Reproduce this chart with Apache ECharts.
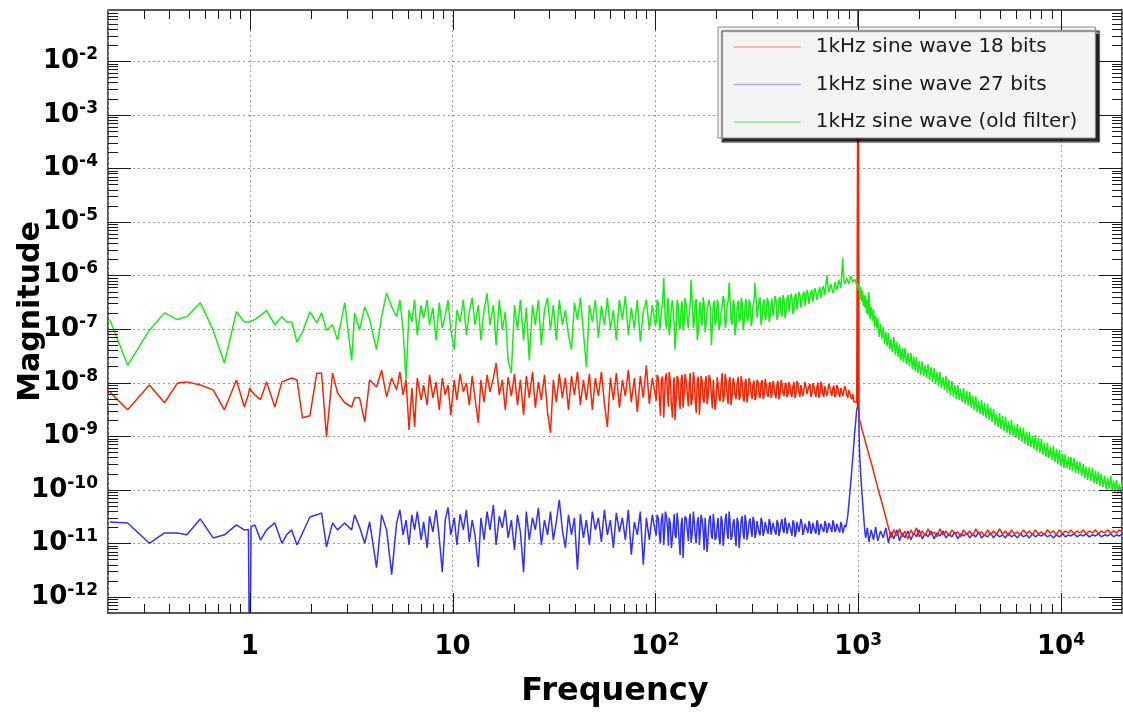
<!DOCTYPE html>
<html>
<head>
<meta charset="utf-8">
<title>1kHz sine wave spectrum</title>
<script src="https://cdn.jsdelivr.net/npm/echarts@6/dist/echarts.min.js"></script>
<style>
  html, body { margin: 0; padding: 0; background: #ffffff; }
  #chart { width: 1123px; height: 717px; }
</style>
</head>
<body>
<div id="chart"></div>
<script>
// Frequency bins (Hz) shared by the three spectra
const freq = [
  0.204, 0.25, 0.32, 0.38, 0.44, 0.49, 0.57, 0.66, 0.75, 0.86,
  0.94, 0.985, 1.0, 1.015, 1.06, 1.13, 1.21, 1.33, 1.44, 1.52, 1.61, 1.71,
  1.82, 1.98, 2.14, 2.26, 2.39, 2.56, 2.71, 2.94, 3.18, 3.29,
  3.48, 3.69, 3.9, 4.22, 4.47, 4.73, 5.01, 5.3,
  5.5, 5.7, 5.9, 6.1, 6.3, 6.5, 6.7, 7.0, 7.2, 7.5,
  7.7, 8.0, 8.3, 8.6, 8.9, 9.2, 9.5, 9.8, 10.2, 10.5,
  10.9, 11.3, 11.7, 12.1, 12.5, 12.9, 13.4, 13.8, 14.3, 14.8,
  15.3, 15.9, 16.4, 17.0, 17.6, 18.2, 18.8, 19.5, 20.2, 20.9,
  21.6, 22.4, 23.1, 23.9, 24.8, 25.6, 26.5, 27.4, 28.4, 29.4,
  30.4, 31.4, 32.5, 33.6, 34.8, 36.0, 37.3, 38.6, 39.9, 41.3,
  42.7, 44.2, 45.7, 47.3, 48.9, 50.6, 52.4, 54.2, 56.1, 58.0,
  60.0, 62.1, 64.2, 66.5, 68.8, 71.1, 73.6, 76.1, 78.8, 81.5,
  84.3, 87.2, 90.3, 93.4, 96.6, 100,
  101, 102, 103.5, 105, 106, 107, 108.5, 110, 111, 112,
  113.5, 115, 116, 117, 118.5, 120, 121.5, 123, 124, 125,
  126.5, 128, 129.5, 131, 132.5, 134, 135.5, 137, 138.5, 140,
  142, 144, 145.5, 147, 148.5, 150, 152, 154, 155.5, 157,
  159, 161, 163, 165, 166.5, 168, 170, 172, 174, 176,
  178, 180, 182, 184, 186.5, 189, 191, 193, 195, 197,
  199.5, 202, 204, 206, 208.5, 211, 213.5, 216, 218.5, 221,
  223.5, 226, 228.5, 231, 233.5, 236, 239, 242, 244.5, 247,
  250, 253, 256, 259, 262, 265, 268, 271, 274, 277,
  280, 283, 286.5, 290, 293.5, 297, 300, 303, 306.5, 310,
  313.5, 317, 321, 325, 328.5, 332, 336, 340, 344, 348,
  352, 356, 360, 364, 368, 372, 376, 380, 384.5, 389,
  393.5, 398, 402.5, 407, 412, 417, 421.5, 426, 431, 436,
  441, 446, 451, 456, 461, 466, 471.5, 477, 482.5, 488,
  493.5, 499, 505, 511, 516.5, 522, 528, 534, 540.5, 547,
  553, 559, 565.5, 572, 578.5, 585, 591.5, 598, 605, 612,
  619, 626, 633, 640, 647.5, 655, 662.5, 670, 677.5, 685,
  693, 701, 709, 717, 725.5, 734, 742, 750, 759, 768,
  776.5, 785, 794, 803, 812, 821, 830.5, 840, 849.5, 859,
  869, 879, 889, 899, 909.5, 920, 930.5, 941, 951.5, 962,
  973, 984,
  993, 1000, 1007,
  1015, 1022, 1030, 1040, 1050, 1060, 1070, 1080, 1090, 1100,
  1110, 1120, 1130, 1145, 1160, 1175, 1190, 1205, 1220, 1235,
  1250, 1270, 1290, 1310, 1330, 1350, 1370, 1390, 1410, 1430,
  1450, 1475, 1500, 1525, 1550, 1575, 1600, 1625, 1650, 1675,
  1700, 1730, 1760, 1790, 1820, 1850, 1880, 1910, 1940, 1970,
  2000, 2035, 2070, 2105, 2140, 2175, 2210, 2250, 2290, 2330,
  2370, 2410, 2450, 2490, 2530, 2575, 2620, 2665, 2710, 2755,
  2800, 2850, 2900, 2950, 3000, 3050, 3100, 3150, 3200, 3255,
  3310, 3370, 3430, 3490, 3550, 3610, 3670, 3735, 3800, 3865,
  3930, 3995, 4060, 4130, 4200, 4275, 4350, 4425, 4500, 4575,
  4650, 4730, 4810, 4895, 4980, 5065, 5150, 5240, 5330, 5420,
  5510, 5605, 5700, 5800, 5900, 6000, 6100, 6205, 6310, 6420,
  6530, 6645, 6760, 6875, 6990, 7110, 7230, 7355, 7480, 7610,
  7740, 7875, 8010, 8150, 8290, 8430, 8570, 8720, 8870, 9025,
  9180, 9340, 9500, 9660, 9820, 10000, 10200, 10350, 10500, 10700,
  10900, 11050, 11200, 11400, 11600, 11800, 12000, 12200, 12400, 12650,
  12900, 13100, 13300, 13550, 13800, 14050, 14300, 14550, 14800, 15050,
  15300, 15550, 15800, 16100, 16400, 16700, 17000, 17300, 17600, 17900,
  18200, 18500, 18800, 19100, 19400, 19700, 20000
];

// 1kHz sine wave, 18 bits
const mag18bits = [
  6.7e-9, 3.1e-9, 9.0e-9, 4.2e-9, 9.8e-9, 1.03e-8, 9.0e-9, 7.3e-9, 3.1e-9, 1.12e-8,
  3.5e-9, 6.0e-9, 8.0e-9, 7.0e-9, 5.9e-9, 4.8e-9, 1.03e-8, 3.5e-9, 1.03e-8, 1.12e-8, 1.22e-8, 1.12e-8,
  2.2e-9, 2.4e-9, 1.5e-8, 1.5e-8, 9.7e-10, 1.5e-8, 6.4e-9, 4.2e-9, 3.5e-9, 5.2e-9,
  5.2e-9, 1.84e-9, 1.12e-8, 8.3e-9, 1.7e-8, 5.4e-9, 1.22e-8, 7.3e-9,
  1.58e-8, 5.9e-9, 1.12e-8, 1.31e-9, 7.9e-9, 1.49e-9, 1.22e-8, 4.7e-9, 9.0e-9, 3.8e-9,
  1.39e-8, 5.2e-9, 1.03e-8, 3.1e-9, 1.22e-8, 5.9e-9, 9.0e-9, 2.5e-9, 1.12e-8, 4.7e-9,
  1.45e-8, 6.7e-9, 9.8e-9, 3.8e-9, 1.33e-8, 5.2e-9, 1.76e-9, 1.12e-8, 4.3e-9, 1.39e-8,
  6.7e-9, 1.22e-8, 2.3e-8, 5.9e-9, 1.12e-8, 3.1e-9, 1.27e-8, 5.6e-9, 1.45e-8, 3.8e-9,
  1.12e-8, 2.5e-9, 1.33e-8, 5.2e-9, 1.58e-8, 3.4e-9, 1.03e-8, 4.7e-9, 1.39e-8, 2.8e-9,
  1.15e-9, 1.12e-8, 4.3e-9, 1.45e-8, 5.2e-9, 1.22e-8, 3.1e-9, 1.33e-8, 5.9e-9, 1.58e-8,
  3.8e-9, 1.12e-8, 4.7e-9, 1.45e-8, 3.1e-9, 1.22e-8, 5.6e-9, 1.58e-8, 4.0e-9, 1.49e-9,
  1.22e-8, 4.7e-9, 1.51e-8, 3.4e-9, 1.12e-8, 5.6e-9, 1.72e-8, 4.3e-9, 1.22e-8, 2.8e-9,
  1.33e-8, 5.2e-9, 2.1e-8, 4.0e-9, 1.22e-8, 5.6e-9,
  4.6e-9, 1.39e-8, 1.2e-8, 4.3e-9, 2.4e-9, 1.12e-8, 1.3e-8, 2.2e-9, 5.0e-9, 1.22e-8,
  1.5e-8, 5.2e-9, 3.5e-9, 1.58e-8, 1.1e-8, 3.8e-9, 2.2e-9, 1.03e-8, 1.25e-8, 2.0e-9,
  4.5e-9, 1.33e-8, 1.2e-8, 4.7e-9, 3.2e-9, 1.12e-8, 1.4e-8, 3.4e-9, 5.9e-9, 1.45e-8,
  1.05e-8, 5.6e-9, 3.6e-9, 9.8e-9, 1.5e-8, 3.8e-9, 5.0e-9, 1.58e-8, 1.18e-8, 5.2e-9,
  2.7e-9, 1.12e-8, 1.28e-8, 2.5e-9, 4.9e-9, 1.33e-8, 1.08e-8, 4.7e-9, 4.2e-9, 1.03e-8,
  1.33e-8, 4.0e-9, 5.4e-9, 1.39e-8, 1.17e-8, 5.6e-9, 3.3e-9, 1.12e-8, 1.22e-8, 3.1e-9,
  5.0e-9, 1.27e-8, 9.0e-9, 5.2e-9, 4.5e-9, 9.4e-9, 1.5e-8, 4.3e-9, 5.4e-9, 1.45e-8,
  1.08e-8, 5.6e-9, 4.0e-9, 1.12e-8, 1.27e-8, 3.8e-9, 5.6e-9, 1.22e-8, 1.02e-8, 5.9e-9,
  4.9e-9, 9.8e-9, 1.28e-8, 4.7e-9, 5.4e-9, 1.33e-8, 9.9e-9, 5.2e-9, 4.4e-9, 1.03e-8,
  1.17e-8, 4.2e-9, 5.8e-9, 1.22e-8, 9.8e-9, 6.1e-9, 4.9e-9, 9.4e-9, 1.08e-8, 4.7e-9,
  5.4e-9, 1.12e-8, 1.02e-8, 5.6e-9, 5.1e-9, 9.8e-9, 1.12e-8, 4.9e-9, 5.8e-9, 1.17e-8,
  9.4e-9, 6.1e-9, 5.4e-9, 9.0e-9, 1.03e-8, 5.2e-9, 6.1e-9, 1.07e-8, 9.0e-9, 5.9e-9,
  5.1e-9, 9.4e-9, 1.08e-8, 4.9e-9, 6.1e-9, 1.12e-8, 9.4e-9, 6.4e-9, 5.6e-9, 9.0e-9,
  9.9e-9, 5.4e-9, 5.9e-9, 1.03e-8, 8.9e-9, 6.1e-9, 5.4e-9, 8.6e-9, 1.03e-8, 5.2e-9,
  6.1e-9, 1.07e-8, 9.4e-9, 6.4e-9, 5.4e-9, 9.0e-9, 9.8e-9, 5.6e-9, 5.9e-9, 1.03e-8,
  8.3e-9, 6.1e-9, 5.6e-9, 8.6e-9, 9.4e-9, 5.4e-9, 6.1e-9, 9.8e-9, 8.6e-9, 6.4e-9,
  5.4e-9, 8.3e-9, 1.0e-8, 5.2e-9, 5.9e-9, 1.03e-8, 8.9e-9, 6.1e-9, 5.4e-9, 8.6e-9,
  9.2e-9, 5.6e-9, 6.1e-9, 9.4e-9, 8.1e-9, 6.4e-9, 5.6e-9, 7.9e-9, 8.8e-9, 5.4e-9,
  5.9e-9, 9.0e-9, 8.1e-9, 6.1e-9, 5.4e-9, 7.9e-9, 8.4e-9, 5.6e-9, 5.6e-9, 8.6e-9,
  7.5e-9, 5.9e-9, 5.2e-9, 7.3e-9, 6.4e-9, 5.4e-9, 4.9e-9, 6.1e-9, 4.4e-9, 4.7e-9,
  4.5e-9, 4.3e-9,
  4.0e-9, 0.5, 3.6e-9,
  2.0e-9, 1.85e-9, 1.69e-9, 1.45e-9, 1.25e-9, 1.1e-9, 9.7e-10, 8.5e-10, 7.5e-10, 6.6e-10,
  5.8e-10, 5.1e-10, 4.5e-10, 3.8e-10, 3.2e-10, 2.7e-10, 2.24e-10, 1.85e-10, 1.52e-10, 1.3e-10,
  1.08e-10, 8.7e-11, 7.0e-11, 5.7e-11, 4.6e-11, 3.7e-11, 3.0e-11, 2.4e-11, 2.0e-11, 1.6e-11,
  1.26e-11, 1.3e-11, 1.78e-11, 1.72e-11, 1.37e-11, 1.4e-11, 1.86e-11, 1.8e-11, 1.32e-11, 1.36e-11,
  1.70e-11, 1.75e-11, 1.21e-11, 1.3e-11, 1.78e-11, 1.7e-11, 1.44e-11, 1.38e-11, 1.94e-11, 1.8e-11,
  1.32e-11, 1.4e-11, 1.70e-11, 1.78e-11, 1.37e-11, 1.3e-11, 1.86e-11, 1.75e-11, 1.44e-11, 1.36e-11,
  1.63e-11, 1.72e-11, 1.32e-11, 1.4e-11, 1.86e-11, 1.78e-11, 1.44e-11, 1.38e-11, 1.70e-11, 1.8e-11,
  1.37e-11, 1.3e-11, 1.78e-11, 1.7e-11, 1.50e-11, 1.4e-11, 1.63e-11, 1.75e-11, 1.32e-11, 1.4e-11,
  1.78e-11, 1.72e-11, 1.44e-11, 1.36e-11, 1.70e-11, 1.8e-11, 1.37e-11, 1.42e-11, 1.86e-11, 1.75e-11,
  1.50e-11, 1.4e-11, 1.63e-11, 1.72e-11, 1.37e-11, 1.44e-11, 1.78e-11, 1.7e-11, 1.44e-11, 1.4e-11,
  1.70e-11, 1.78e-11, 1.44e-11, 1.4e-11, 1.86e-11, 1.75e-11, 1.50e-11, 1.42e-11, 1.70e-11, 1.78e-11,
  1.37e-11, 1.44e-11, 1.78e-11, 1.72e-11, 1.50e-11, 1.42e-11, 1.63e-11, 1.75e-11, 1.44e-11, 1.4e-11,
  1.78e-11, 1.7e-11, 1.50e-11, 1.44e-11, 1.70e-11, 1.78e-11, 1.44e-11, 1.5e-11, 1.78e-11, 1.72e-11,
  1.50e-11, 1.44e-11, 1.63e-11, 1.75e-11, 1.44e-11, 1.5e-11, 1.78e-11, 1.7e-11, 1.56e-11, 1.48e-11,
  1.70e-11, 1.78e-11, 1.44e-11, 1.52e-11, 1.78e-11, 1.72e-11, 1.50e-11, 1.46e-11, 1.70e-11, 1.76e-11,
  1.56e-11, 1.5e-11, 1.78e-11, 1.7e-11, 1.50e-11, 1.55e-11, 1.70e-11, 1.76e-11, 1.56e-11, 1.5e-11,
  1.78e-11, 1.72e-11, 1.50e-11, 1.56e-11, 1.70e-11, 1.76e-11, 1.56e-11, 1.5e-11, 1.78e-11, 1.7e-11,
  1.50e-11, 1.56e-11, 1.70e-11, 1.76e-11, 1.56e-11, 1.52e-11, 1.78e-11, 1.72e-11, 1.56e-11, 1.6e-11,
  1.70e-11, 1.76e-11, 1.56e-11, 1.6e-11, 1.78e-11, 1.7e-11, 1.63e-11
];

// 1kHz sine wave, 27 bits
const mag27bits = [
  2.5e-11, 2.4e-11, 1.0e-11, 1.56e-11, 1.56e-11, 1.44e-11, 2.85e-11, 1.26e-11, 1.44e-11, 2.2e-11,
  1.78e-11, 1.8e-11, 1e-14, 2.0e-11, 2.2e-11, 1.15e-11, 1.78e-11, 2.4e-11, 1.0e-11, 1.44e-11, 1.78e-11, 9.3e-12,
  1.56e-11, 3.1e-11, 3.4e-11, 3.7e-11, 8.6e-12, 2.4e-11, 1.78e-11, 2.4e-11, 1.78e-11, 3.4e-11,
  2.0e-11, 1.0e-11, 2.5e-11, 3.5e-12, 3.4e-11, 1.78e-11, 2.6e-12, 2.4e-11,
  4.2e-11, 1.44e-11, 2.7e-11, 9.3e-12, 3.4e-11, 1.78e-11, 3.9e-11, 1.16e-11, 2.5e-11, 8.2e-12,
  3.2e-11, 1.63e-11, 4.2e-11, 1.26e-11, 2.9e-12, 2.7e-11, 4.7e-11, 1.44e-11, 3.0e-11, 9.3e-12,
  3.5e-11, 1.78e-11, 4.2e-11, 1.06e-11, 2.7e-11, 1.44e-11, 3.6e-12, 3.0e-11, 1.16e-11, 3.9e-11,
  1.78e-11, 5.2e-11, 9.3e-12, 3.2e-11, 1.94e-11, 4.2e-11, 1.26e-11, 2.7e-11, 7.5e-12, 3.4e-11,
  1.63e-11, 2.9e-12, 3.9e-11, 1.16e-11, 3.0e-11, 1.78e-11, 4.6e-11, 9.3e-12, 2.7e-11, 1.44e-11,
  3.9e-11, 1.16e-11, 2.5e-11, 6.5e-11, 1.78e-11, 8.2e-12, 3.4e-11, 1.44e-11, 3.0e-11, 3.2e-12,
  3.5e-11, 1.26e-11, 2.7e-11, 9.3e-12, 3.9e-11, 1.78e-11, 3.0e-11, 1.06e-11, 4.2e-11, 1.44e-11,
  2.7e-11, 8.2e-12, 3.7e-11, 1.63e-11, 3.0e-11, 1.16e-11, 4.2e-11, 6.1e-12, 2.5e-11, 1.44e-11,
  3.9e-11, 4.0e-12, 3.0e-11, 1.16e-11, 3.4e-11, 1.63e-11,
  1.4e-11, 3.4e-11, 2.9e-11, 1.26e-11, 1.0e-11, 2.7e-11, 3.6e-11, 9.3e-12, 1.6e-11, 3.9e-11,
  3.2e-11, 1.78e-11, 9.0e-12, 3.0e-11, 2.3e-11, 8.2e-12, 1.3e-11, 2.5e-11, 3.5e-11, 1.44e-11,
  1.25e-11, 3.7e-11, 2.4e-11, 1.16e-11, 6.0e-12, 2.2e-11, 3.0e-11, 5.3e-12, 1.5e-11, 3.2e-11,
  2.9e-11, 1.63e-11, 1.1e-11, 2.7e-11, 3.6e-11, 1.02e-11, 1.56e-11, 3.9e-11, 2.6e-11, 1.44e-11,
  1.0e-11, 2.5e-11, 3.1e-11, 9.3e-12, 1.6e-11, 3.4e-11, 2.8e-11, 1.78e-11, 7.5e-12, 3.0e-11,
  2.9e-11, 6.9e-12, 1.3e-11, 2.7e-11, 3.3e-11, 1.37e-11, 1.2e-11, 3.5e-11, 2.4e-11, 1.16e-11,
  1.3e-11, 2.3e-11, 3.0e-11, 1.26e-11, 9.5e-12, 3.2e-11, 2.6e-11, 8.9e-12, 1.5e-11, 2.7e-11,
  3.6e-11, 1.56e-11, 1.2e-11, 3.9e-11, 2.6e-11, 1.16e-11, 1.37e-11, 2.5e-11, 2.8e-11, 1.44e-11,
  8.8e-12, 3.0e-11, 2.5e-11, 8.2e-12, 1.44e-11, 2.7e-11, 3.2e-11, 1.50e-11, 1.2e-11, 3.4e-11,
  2.6e-11, 1.16e-11, 1.56e-11, 2.5e-11, 2.9e-11, 1.63e-11, 1.32e-11, 3.1e-11, 2.7e-11, 1.26e-11,
  1.5e-11, 2.6e-11, 2.8e-11, 1.56e-11, 1.4e-11, 3.0e-11, 2.6e-11, 1.37e-11, 1.63e-11, 2.5e-11,
  2.7e-11, 1.70e-11, 1.5e-11, 2.85e-11, 2.5e-11, 1.44e-11, 1.56e-11, 2.4e-11, 2.6e-11, 1.63e-11,
  1.44e-11, 2.7e-11, 2.4e-11, 1.37e-11, 1.7e-11, 2.5e-11, 2.8e-11, 1.78e-11, 1.56e-11, 3.0e-11,
  2.3e-11, 1.50e-11, 1.63e-11, 2.4e-11, 2.6e-11, 1.70e-11, 1.37e-11, 2.7e-11, 2.4e-11, 1.32e-11,
  1.56e-11, 2.5e-11, 2.7e-11, 1.63e-11, 1.5e-11, 2.85e-11, 2.4e-11, 1.44e-11, 1.7e-11, 2.3e-11,
  2.5e-11, 1.78e-11, 1.56e-11, 2.6e-11, 2.3e-11, 1.50e-11, 1.7e-11, 2.4e-11, 2.6e-11, 1.70e-11,
  1.5e-11, 2.7e-11, 2.4e-11, 1.44e-11, 1.78e-11, 2.3e-11, 2.5e-11, 1.78e-11, 1.63e-11, 2.6e-11,
  2.3e-11, 1.56e-11, 1.8e-11, 2.4e-11, 2.6e-11, 1.86e-11, 1.63e-11, 2.7e-11, 2.3e-11, 1.63e-11,
  1.78e-11, 2.3e-11, 2.5e-11, 1.78e-11, 1.6e-11, 2.5e-11, 2.2e-11, 1.56e-11, 1.8e-11, 2.2e-11,
  2.0e-11, 2.5e-11, 3.3e-11, 5.2e-11, 8.5e-11, 1.4e-10, 2.4e-10, 3.9e-10, 7.0e-10, 1.2e-9,
  1.9e-9, 3.1e-9,
  3.5e-9, 0.5, 2.6e-9,
  5.5e-10, 3.2e-10, 1.89e-10, 1.1e-10, 6.5e-11, 4.0e-11, 2.5e-11, 1.6e-11,
  1.26e-11, 1.3e-11, 1.94e-11, 1.85e-11, 1.06e-11, 1.12e-11, 1.78e-11, 1.7e-11, 1.16e-11, 1.2e-11,
  2.0e-11, 1.9e-11, 1.11e-11, 1.18e-11, 1.70e-11, 1.8e-11, 1.26e-11, 1.2e-11, 1.94e-11, 1.85e-11,
  1.02e-11, 1.1e-11, 1.63e-11, 1.72e-11, 1.21e-11, 1.15e-11, 1.78e-11, 1.7e-11, 1.11e-11, 1.2e-11,
  1.56e-11, 1.65e-11, 1.26e-11, 1.2e-11, 1.70e-11, 1.62e-11, 1.16e-11, 1.24e-11, 1.56e-11, 1.66e-11,
  1.32e-11, 1.25e-11, 1.78e-11, 1.68e-11, 1.21e-11, 1.28e-11, 1.50e-11, 1.6e-11, 1.32e-11, 1.24e-11,
  1.70e-11, 1.62e-11, 1.21e-11, 1.28e-11, 1.56e-11, 1.64e-11, 1.37e-11, 1.3e-11, 1.70e-11, 1.6e-11,
  1.26e-11, 1.32e-11, 1.50e-11, 1.58e-11, 1.32e-11, 1.26e-11, 1.63e-11, 1.55e-11, 1.21e-11, 1.28e-11,
  1.50e-11, 1.58e-11, 1.37e-11, 1.3e-11, 1.56e-11, 1.5e-11, 1.26e-11, 1.32e-11, 1.50e-11, 1.58e-11,
  1.32e-11, 1.26e-11, 1.63e-11, 1.55e-11, 1.26e-11, 1.33e-11, 1.44e-11, 1.52e-11, 1.32e-11, 1.27e-11,
  1.56e-11, 1.5e-11, 1.26e-11, 1.33e-11, 1.50e-11, 1.56e-11, 1.32e-11, 1.28e-11, 1.44e-11, 1.5e-11,
  1.26e-11, 1.32e-11, 1.56e-11, 1.5e-11, 1.32e-11, 1.28e-11, 1.44e-11, 1.5e-11, 1.26e-11, 1.32e-11,
  1.50e-11, 1.55e-11, 1.32e-11, 1.28e-11, 1.44e-11, 1.5e-11, 1.26e-11, 1.33e-11, 1.50e-11, 1.46e-11,
  1.32e-11, 1.28e-11, 1.44e-11, 1.5e-11, 1.37e-11, 1.32e-11, 1.50e-11, 1.46e-11, 1.32e-11, 1.36e-11,
  1.44e-11, 1.5e-11, 1.26e-11, 1.32e-11, 1.44e-11, 1.5e-11, 1.32e-11, 1.28e-11, 1.50e-11, 1.46e-11,
  1.32e-11, 1.36e-11, 1.44e-11, 1.5e-11, 1.37e-11, 1.32e-11, 1.50e-11, 1.46e-11, 1.32e-11, 1.36e-11,
  1.44e-11, 1.48e-11, 1.37e-11, 1.33e-11, 1.50e-11, 1.46e-11, 1.32e-11, 1.36e-11, 1.44e-11, 1.48e-11,
  1.37e-11, 1.33e-11, 1.50e-11, 1.46e-11, 1.32e-11, 1.36e-11, 1.44e-11, 1.48e-11, 1.37e-11, 1.33e-11,
  1.50e-11, 1.46e-11, 1.32e-11, 1.36e-11, 1.44e-11, 1.48e-11, 1.37e-11, 1.4e-11, 1.50e-11
];

// 1kHz sine wave, old filter
const magOldFilter = [
  1.5e-7, 2.1e-8, 9.5e-8, 2.0e-7, 1.5e-7, 1.7e-7, 3.1e-7, 9.5e-8, 2.3e-8, 2.1e-7,
  1.35e-7, 1.35e-7, 1.35e-7, 1.4e-7, 1.5e-7, 1.8e-7, 2.2e-7, 1.2e-7, 1.7e-7, 1.35e-7, 1.35e-7, 5.7e-8,
  8.8e-8, 2.1e-7, 1.3e-7, 2.0e-7, 9.5e-8, 1.2e-7, 6.2e-8, 3.1e-7, 2.6e-8, 2.0e-7,
  9.5e-8, 2.6e-7, 1.5e-7, 4.1e-8, 1.7e-7, 4.7e-7, 2.6e-7, 1.7e-7,
  3.5e-7, 9.6e-8, 1.12e-8, 2.26e-7, 1.35e-7, 3.5e-7, 7.7e-8, 2.8e-7, 1.6e-7, 3.5e-7,
  1.19e-7, 2.5e-7, 6.2e-8, 3.1e-7, 1.04e-7, 1.8e-7, 3.5e-7, 9.6e-8, 4.1e-8, 2.26e-7,
  1.35e-7, 3.5e-7, 7.7e-8, 2.1e-7, 3.8e-7, 1.19e-7, 2.8e-7, 6.2e-8, 2.26e-7, 4.6e-7,
  1.19e-7, 2.8e-7, 5.0e-8, 3.5e-7, 9.6e-8, 2.1e-7, 2.6e-8, 1.5e-8, 2.8e-7, 9.6e-8,
  3.5e-7, 6.2e-8, 2.5e-7, 2.6e-8, 2.8e-7, 1.19e-7, 3.5e-7, 5.0e-8, 2.26e-7, 3.8e-7,
  9.6e-8, 2.8e-7, 6.2e-8, 3.5e-7, 1.19e-7, 2.26e-7, 7.7e-8, 4.1e-8, 3.1e-7, 1.47e-7,
  3.8e-7, 8.8e-8, 1.95e-8, 2.8e-7, 1.35e-7, 3.5e-7, 6.8e-8, 2.7e-7, 1.19e-7, 3.8e-7,
  9.6e-8, 2.26e-7, 6.2e-8, 3.5e-7, 1.47e-7, 4.1e-7, 7.7e-8, 2.5e-7, 1.04e-7, 3.5e-7,
  5.8e-8, 2.1e-7, 3.5e-7, 9.6e-8, 2.8e-7, 1.19e-7,
  1.3e-7, 3.5e-7, 3.0e-7, 9.6e-8, 1.2e-7, 2.26e-7, 2.9e-7, 8.9e-7, 3.2e-7, 1.47e-7,
  1.0e-7, 3.8e-7, 3.3e-7, 7.7e-8, 1.1e-7, 2.8e-7, 3.4e-7, 1.6e-7, 1.3e-7, 4.1e-8,
  9.0e-8, 3.5e-7, 2.9e-7, 1.19e-7, 1.0e-7, 2.5e-7, 3.3e-7, 9.6e-8, 1.25e-7, 3.8e-7,
  2.8e-7, 1.35e-7, 1.05e-7, 2.1e-7, 3.0e-7, 8.2e-7, 3.3e-7, 1.04e-7, 1.3e-7, 3.1e-7,
  3.6e-7, 6.2e-8, 9.0e-8, 2.7e-7, 3.2e-7, 1.47e-7, 1.15e-7, 3.9e-7, 2.9e-7, 8.8e-8,
  1.3e-7, 2.26e-7, 2.8e-7, 3.5e-7, 2.6e-7, 5.0e-8, 1.1e-7, 2.8e-7, 3.4e-7, 1.19e-7,
  1.4e-7, 3.5e-7, 3.0e-7, 9.6e-8, 1.2e-7, 2.1e-7, 2.6e-7, 4.1e-7, 3.5e-7, 1.04e-7,
  1.3e-7, 2.8e-7, 3.3e-7, 7.3e-7, 3.8e-7, 1.47e-7, 1.2e-7, 3.5e-7, 3.0e-7, 7.7e-8,
  1.1e-7, 2.5e-7, 3.4e-7, 1.35e-7, 1.5e-7, 3.8e-7, 3.1e-7, 9.6e-8, 1.3e-7, 2.8e-7,
  3.6e-7, 1.6e-7, 1.4e-7, 3.5e-7, 3.0e-7, 1.15e-7, 1.4e-7, 2.7e-7, 3.3e-7, 7.3e-7,
  4.0e-7, 1.6e-7, 1.5e-7, 3.5e-7, 3.9e-7, 1.19e-7, 1.6e-7, 3.1e-7, 3.6e-7, 1.47e-7,
  1.7e-7, 3.8e-7, 3.3e-7, 1.35e-7, 1.7e-7, 2.9e-7, 3.7e-7, 1.75e-7, 1.9e-7, 4.1e-7,
  3.6e-7, 1.47e-7, 1.8e-7, 3.5e-7, 4.0e-7, 1.9e-7, 1.7e-7, 4.3e-7, 3.7e-7, 1.6e-7,
  2.0e-7, 3.8e-7, 4.3e-7, 2.1e-7, 2.0e-7, 4.5e-7, 3.9e-7, 1.9e-7, 2.3e-7, 4.1e-7,
  4.6e-7, 2.26e-7, 2.4e-7, 4.9e-7, 4.3e-7, 2.5e-7, 2.6e-7, 4.5e-7, 5.0e-7, 2.7e-7,
  2.8e-7, 5.3e-7, 4.6e-7, 2.9e-7, 3.0e-7, 4.9e-7, 5.4e-7, 3.2e-7, 3.4e-7, 5.8e-7,
  5.0e-7, 3.5e-7, 3.7e-7, 5.3e-7, 6.0e-7, 3.8e-7, 4.0e-7, 6.3e-7, 5.6e-7, 4.3e-7,
  4.6e-7, 1.02e-6, 6.5e-7, 4.9e-7, 5.0e-7, 6.9e-7, 7.2e-7, 4.7e-7, 5.2e-7, 7.5e-7,
  7.9e-7, 5.3e-7, 5.6e-7, 8.2e-7, 7.8e-7, 5.8e-7, 6.2e-7, 2.1e-6, 8.0e-7, 6.9e-7,
  6.4e-7, 8.9e-7, 8.6e-7, 6.9e-7, 7.2e-7, 9.7e-7, 9.0e-7, 7.5e-7, 7.1e-7, 8.5e-7,
  8.0e-7, 6.6e-7,
  7.3e-7, 5.8e-7, 5.3e-7,
  6.3e-7, 3.6e-7, 6.1e-7, 3.3e-7, 5.3e-7, 2.7e-7, 4.3e-7, 2.5e-7, 4.1e-7, 2.0e-7,
  3.5e-7, 1.8e-7, 4.9e-7, 1.54e-7, 2.6e-7, 1.41e-7, 2.36e-7, 1.09e-7, 1.75e-7, 1.0e-7,
  1.6e-7, 7.1e-8, 1.24e-7, 6.5e-8, 1.09e-7, 5.2e-8, 8.8e-8, 4.8e-8, 8.4e-8, 4.1e-8,
  6.5e-8, 3.7e-8, 7.1e-8, 3.3e-8, 5.7e-8, 3.0e-8, 5.2e-8, 2.6e-8, 4.4e-8, 2.4e-8,
  4.4e-8, 2.2e-8, 3.6e-8, 2.0e-8, 3.6e-8, 1.8e-8, 3.1e-8, 1.65e-8, 3.0e-8, 1.51e-8,
  2.5e-8, 1.39e-8, 2.5e-8, 1.33e-8, 2.1e-8, 1.22e-8, 2.2e-8, 1.12e-8, 1.95e-8, 1.03e-8,
  1.87e-8, 9.4e-9, 1.58e-8, 8.6e-9, 1.58e-8, 7.9e-9, 1.27e-8, 7.3e-9, 1.33e-8, 6.4e-9,
  1.12e-8, 5.9e-9, 1.07e-8, 5.4e-9, 9.0e-9, 4.9e-9, 9.0e-9, 4.7e-9, 7.6e-9, 4.35e-9,
  7.9e-9, 4.0e-9, 7.0e-9, 3.7e-9, 6.7e-9, 3.4e-9, 5.6e-9, 3.1e-9, 5.6e-9, 2.8e-9,
  4.5e-9, 2.6e-9, 4.7e-9, 2.4e-9, 4.2e-9, 2.2e-9, 4.0e-9, 2.0e-9, 3.4e-9, 1.84e-9,
  3.2e-9, 1.62e-9, 2.6e-9, 1.48e-9, 2.7e-9, 1.36e-9, 2.4e-9, 1.25e-9, 2.3e-9, 1.15e-9,
  1.92e-9, 1.05e-9, 2.0e-9, 1.01e-9, 1.62e-9, 9.3e-10, 1.69e-9, 8.5e-10, 1.48e-9, 7.8e-10,
  1.42e-9, 7.2e-10, 1.2e-9, 6.6e-10, 1.2e-9, 6.3e-10, 1.01e-9, 5.8e-10, 1.05e-9, 5.3e-10,
  9.3e-10, 4.9e-10, 8.9e-10, 4.5e-10, 7.5e-10, 4.1e-10, 7.5e-10, 3.9e-10, 6.3e-10, 3.6e-10,
  6.6e-10, 3.3e-10, 5.8e-10, 3.0e-10, 5.5e-10, 2.8e-10, 4.65e-10, 2.55e-10, 4.65e-10, 2.55e-10,
  4.1e-10, 2.34e-10, 4.1e-10, 2.24e-10, 3.9e-10, 2.06e-10, 3.4e-10, 1.97e-10, 3.3e-10, 1.81e-10,
  3.0e-10, 1.66e-10, 2.66e-10, 1.52e-10, 2.66e-10, 1.46e-10, 2.55e-10, 1.34e-10, 2.24e-10, 1.28e-10,
  2.15e-10, 1.18e-10, 1.97e-10, 1.13e-10, 1.81e-10, 1.03e-10, 1.66e-10, 1.03e-10, 1.81e-10, 9.5e-11,
  1.46e-10, 9.1e-11, 1.52e-10, 8.4e-11, 1.28e-10, 8.4e-11, 1.4e-10
];

const seriesNames = ['1kHz sine wave 18 bits', '1kHz sine wave 27 bits', '1kHz sine wave (old filter)'];
const seriesColors = ['#ff2200', '#3030ff', '#14ee14'];
const legendColors = ['#f7a4a0', '#a9a9f6', '#8ee88e'];

// Axis ranges and decade tick labels: [base, superscript]
const X_MIN = 0.2, X_MAX = 20000;
const Y_MIN = 5e-13, Y_MAX = 0.09;
const xTickLabels = [['1', ''], ['10', ''], ['10', '2'], ['10', '3'], ['10', '4']];   // 10^0 .. 10^4
const yTickLabels = ['-12', '-11', '-10', '-9', '-8', '-7', '-6', '-5', '-4', '-3', '-2']; // 10^-12 .. 10^-2

[mag18bits, mag27bits, magOldFilter].forEach(function (arr, i) {
  if (arr.length !== freq.length) throw new Error(seriesNames[i] + ': ' + arr.length + ' values for ' + freq.length + ' bins');
});

function pairs(values) { return freq.map(function (f, i) { return [f, values[i]]; }); }

function richLabel(base, sup) {
  return sup ? '{b|' + base + '}{s|' + sup + '}' : '{b|' + base + '}';
}
function isDecade(v) {
  const e = Math.log10(v);
  return Math.abs(e - Math.round(e)) < 1e-6;
}

// Tick positions for both log axes: decades (major) and 2..9 multiples (minor)
function logTicks(lo, hi) {
  const out = [];
  for (let e = Math.floor(Math.log10(lo)); e <= Math.ceil(Math.log10(hi)); e++) {
    for (let k = 1; k <= 9; k++) {
      const v = k * Math.pow(10, e);
      if (v > lo * 1.0001 && v < hi * 0.9999) out.push([v, k === 1]);
    }
  }
  return out;
}
const tickData = [];
logTicks(X_MIN, X_MAX).forEach(function (t) { tickData.push([t[0], 1e-6, t[1] ? 0 : 1]); });
logTicks(Y_MIN, Y_MAX).forEach(function (t) { tickData.push([1, t[0], t[1] ? 2 : 3]); });
const yDecadeData = tickData.filter(function (t) { return t[2] === 2; });

const labelRich = {
  b: { fontFamily: 'DejaVu Sans', fontWeight: 'bold', fontSize: 26, color: '#000', lineHeight: 30 },
  s: { fontFamily: 'DejaVu Sans', fontWeight: 'bold', fontSize: 17, color: '#000', lineHeight: 17, verticalAlign: 'top' }
};
const gridColor = '#9a9a9a';
const gridDash = [2, 3];

// Frame ticks on all four sides, plus the decade labels of the magnitude axis
function renderTick(params, api) {
  const kind = api.value(2);
  const cs = params.coordSys;
  const style = { stroke: '#1a1a1a', lineWidth: 1 };
  if (kind < 2) {
    const px = Math.round(api.coord([api.value(0), 1e-6])[0]) + 0.5;
    const len = kind === 0 ? 20 : 9;
    const yb = cs.y + cs.height, yt = cs.y;
    return { type: 'group', children: [
      { type: 'line', shape: { x1: px, y1: yb, x2: px, y2: yb - len }, style: style },
      { type: 'line', shape: { x1: px, y1: yt, x2: px, y2: yt + len }, style: style }
    ] };
  }
  const v = api.value(1);
  const py = Math.round(api.coord([1, v])[1]) + 0.5;
  const len = kind === 2 ? 23 : 10;
  const xl = cs.x, xr = cs.x + cs.width;
  const children = [
    { type: 'line', shape: { x1: xl, y1: py, x2: xl + len, y2: py }, style: style },
    { type: 'line', shape: { x1: xr, y1: py, x2: xr - len, y2: py }, style: style }
  ];
  if (kind === 2) {
    const sup = yTickLabels[Math.round(Math.log10(v)) + 12];
    if (sup) {
      children.push({
        type: 'text',
        style: { text: richLabel('10', sup), rich: labelRich, x: xl - 10, y: py, align: 'right', verticalAlign: 'middle' }
      });
    }
  }
  return { type: 'group', children: children };
}

// Dotted decade grid lines of the magnitude axis
function renderYGrid(params, api) {
  const cs = params.coordSys;
  const py = Math.round(api.coord([1, api.value(1)])[1]) + 0.5;
  return {
    type: 'line',
    shape: { x1: cs.x, y1: py, x2: cs.x + cs.width, y2: py },
    style: { stroke: gridColor, lineWidth: 1, lineDash: gridDash }
  };
}

function lineSeries(idx, values) {
  return {
    name: seriesNames[idx],
    type: 'line',
    data: pairs(values),
    symbol: 'none',
    showSymbol: false,
    sampling: 'none',
    clip: true,
    z: 2,
    lineStyle: { color: seriesColors[idx], width: 1.5 },
    itemStyle: { color: seriesColors[idx] },
    emphasis: { disabled: true }
  };
}

const chart = echarts.init(document.getElementById('chart'), null, { renderer: 'canvas' });
chart.setOption({
  animation: false,
  backgroundColor: '#ffffff',
  grid: {
    left: 108, right: 1, top: 10, bottom: 104,
    outerBoundsMode: 'none', containLabel: false,
    show: true, borderColor: '#222', borderWidth: 1.5, backgroundColor: 'transparent'
  },
  xAxis: {
    type: 'log', logBase: 10, min: X_MIN, max: X_MAX,
    name: 'Frequency', nameLocation: 'middle', nameGap: 63, nameMoveOverlap: false,
    nameTextStyle: { fontFamily: 'DejaVu Sans', fontWeight: 'bold', fontSize: 32, color: '#000' },
    axisLine: { show: false },
    axisTick: { show: false },
    splitLine: { show: true, lineStyle: { color: gridColor, width: 1, type: gridDash } },
    axisLabel: {
      margin: 19, showMinLabel: false, showMaxLabel: false,
      formatter: function (v) {
        if (!isDecade(v)) return '';
        const t = xTickLabels[Math.round(Math.log10(v))];
        return t ? richLabel(t[0], t[1]) : '';
      },
      rich: labelRich
    }
  },
  yAxis: {
    type: 'log', logBase: 10, min: Y_MIN, max: Y_MAX,
    name: 'Magnitude', nameLocation: 'middle', nameGap: 62, nameRotate: 90, nameMoveOverlap: false,
    nameTextStyle: { fontFamily: 'DejaVu Sans', fontWeight: 'bold', fontSize: 30, color: '#000' },
    axisLine: { show: false },
    axisTick: { show: false },
    splitLine: { show: false },
    axisLabel: { show: false }
  },
  legend: {
    orient: 'vertical', left: 718, top: 27,
    padding: [10, 18, 6, 15], itemGap: 17.5, itemWidth: 67, itemHeight: 20,
    backgroundColor: '#f4f4f4', borderColor: '#8a8a8a', borderWidth: 1, borderRadius: 0,
    shadowColor: 'rgba(0,0,0,0.85)', shadowBlur: 1, shadowOffsetX: 4, shadowOffsetY: 4,
    selectedMode: false,
    textStyle: { fontFamily: 'DejaVu Sans', fontSize: 20, color: '#1a1a1a', padding: [0, 0, 0, 10] },
    data: seriesNames.map(function (n, i) {
      return { name: n, lineStyle: { color: legendColors[i], width: 1.5 }, itemStyle: { opacity: 0 } };
    })
  },
  series: [
    {
      type: 'custom', coordinateSystem: 'cartesian2d', silent: true, z: 1,
      clip: false, data: yDecadeData, renderItem: renderYGrid, encode: { x: 0, y: 1 }
    },
    lineSeries(1, mag27bits),
    lineSeries(0, mag18bits),
    lineSeries(2, magOldFilter),
    {
      type: 'custom', coordinateSystem: 'cartesian2d', silent: true, z: 5,
      clip: false, data: tickData, renderItem: renderTick, encode: { x: 0, y: 1 }
    }
  ]
});
</script>
</body>
</html>
